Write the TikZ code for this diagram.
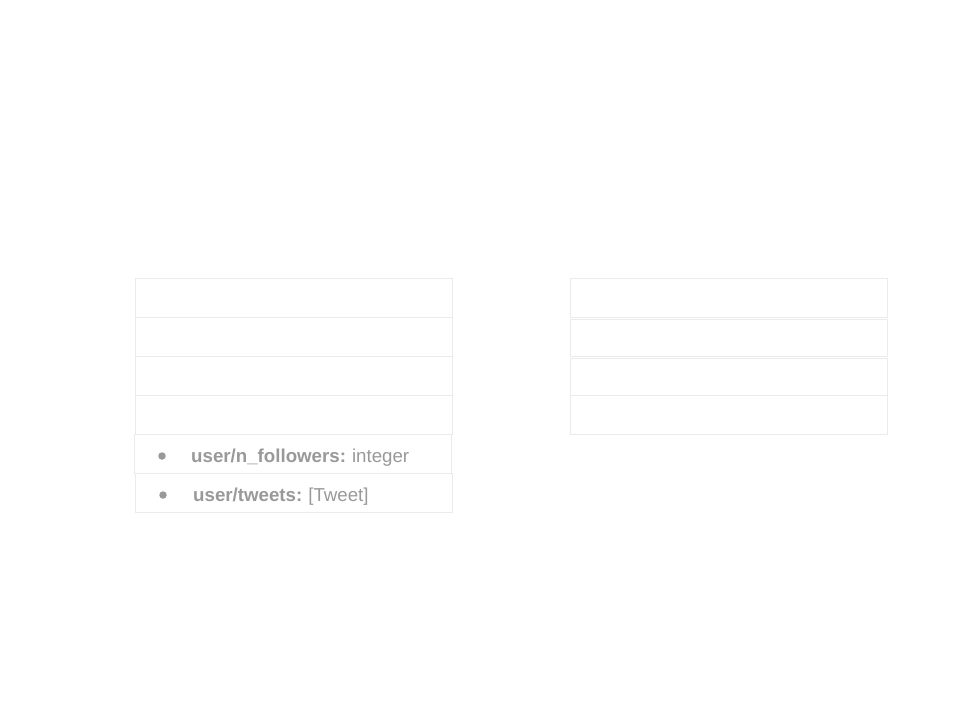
\documentclass[tikz,border=0pt]{standalone}
\usepackage{fontspec}
\setmainfont{Liberation Sans}
\definecolor{rowline}{HTML}{EBEBEB}
\definecolor{txtgray}{HTML}{999999}
\begin{document}
\begin{tikzpicture}[x=1pt,y=-1pt,
  rowbox/.style={draw=rowline,line width=0.8pt,fill=white,inner sep=0pt,outer sep=0pt},
  rowtext/.style={text=txtgray,font=\fontsize{18.7}{20}\selectfont,anchor=base west,inner sep=0pt},
  bulletmark/.style={fill=txtgray,draw=none,circle,inner sep=0pt,minimum size=7.5pt}]
\useasboundingbox (0,0) rectangle (960,720);
\fill[white] (0,0) rectangle (960,720);
% left column
\draw[rowbox] (135,278) rectangle (452,317);
\draw[rowbox] (135,317) rectangle (452,356);
\draw[rowbox] (135,356) rectangle (452,395);
\draw[rowbox] (135,395) rectangle (452,434);
\draw[rowbox] (134,434) rectangle (451,473);
\draw[rowbox] (135,473) rectangle (452,512);
% right column
\draw[rowbox] (570,278) rectangle (887,317);
\draw[rowbox] (570,319) rectangle (887,356);
\draw[rowbox] (570,358) rectangle (887,395);
\draw[rowbox] (570,395) rectangle (887,434);
% texts
\node[bulletmark] (b1) at (162,456) {};
\node[rowtext] (t1) at (191,462) {\textbf{user/n\_followers:}\hspace{0.32em}integer};
\node[bulletmark] (b2) at (163,495) {};
\node[rowtext] (t2) at (193,501) {\textbf{user/tweets:}\hspace{0.32em}[Tweet]};
\end{tikzpicture}
\end{document}
